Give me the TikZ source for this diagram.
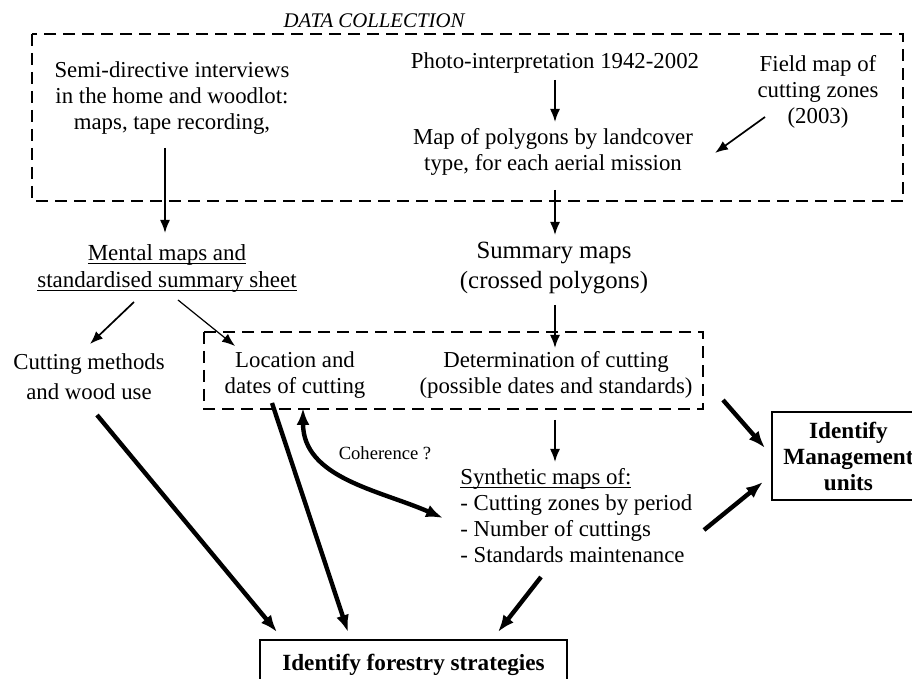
\documentclass[tikz,border=0pt]{standalone}
\usepackage{fontspec}
\setmainfont{Liberation Serif}
\usetikzlibrary{arrows.meta,calc}
\newcommand{\undl}[1]{\underline{\raisebox{0pt}[\height][0pt]{#1}}}
\begin{document}
\begin{tikzpicture}[x=0.5pt,y=-0.5pt,
        txt/.style={align=center,inner sep=0pt,font=\fontsize{11.4}{13}\selectfont},
        boldbox/.style={draw,line width=0.8pt,align=center,inner sep=0pt,font=\fontsize{11.6}{13}\selectfont\bfseries},
        dashbox/.style={draw,line width=0.8pt,dash pattern=on 6pt off 3.5pt},
        thinarrow/.style={-{Latex[length=6.5pt,width=5pt]},line width=0.85pt},
        thickarrow/.style={-{Latex[length=8.5pt,width=6.5pt]},line width=2.2pt},
        cohlink/.style={{Latex[length=8.5pt,width=6.5pt]}-{Latex[length=8.5pt,width=6.5pt]},line width=2.2pt}]
        \useasboundingbox (0,0) rectangle (912,679);

        % dashed frames
        \draw[dashbox] (32,34) rectangle (903,201);
        \draw[dashbox] (204,332) rectangle (703,409);

        \draw (374,21) node (title) [txt,font=\fontsize{10.4}{12}\selectfont\itshape] {DATA COLLECTION};
        \draw (172,98) node (semi) [txt] {Semi-directive interviews\\in the home and woodlot:\\maps, tape recording,};
        \draw (555,63) node (photo) [txt] {Photo-interpretation 1942-2002};
        \draw (553,152) node (polymap) [txt] {Map of polygons by landcover\\type, for each aerial mission};
        \draw (818,92) node (field) [txt] {Field map of\\cutting zones\\(2003)};
        \draw (167,268) node (mental) [txt,font=\fontsize{11.5}{13.5}\selectfont] {\undl{Mental maps and}\\\undl{standardised summary sheet}};
        \draw (554,268) node (summary) [txt,font=\fontsize{12.4}{15}\selectfont] {Summary maps\\(crossed polygons)};
        \draw (295,375) node (location) [txt] {Location and\\dates of cutting};
        \draw (556,375) node (determ) [txt] {Determination of cutting\\(possible dates and standards)};
        \draw (89,377) node (methods) [txt,font=\fontsize{11.4}{15}\selectfont] {Cutting methods\\and wood use};
        \draw (460,516) node (synth) [txt,anchor=west,align=left] {\undl{Synthetic maps of:}\\- Cutting zones by period\\- Number of cuttings\\- Standards maintenance};
        \draw (385,453) node (coh) [txt,font=\fontsize{9.3}{11}\selectfont] {Coherence ?};
        \draw (413.5,665) node (forestry) [boldbox,minimum width=153.5pt,minimum height=25pt] {Identify forestry strategies};
        \draw (848.5,456) node (manage) [boldbox,minimum width=76.5pt,minimum height=44pt] {Identify\\Management\\units};

        % thin arrows
        \draw[thinarrow] ($(semi)+(-7,50)$) -- ($(mental)+(-2,-35)$);
        \draw[thinarrow] ($(photo)+(0,17)$) -- ($(polymap)+(2,-30)$);
        \draw[thinarrow] ($(field)+(-53,25)$) -- ($(polymap)+(162,1)$);
        \draw[thinarrow] ($(polymap)+(2,38)$) -- ($(summary)+(1,-33)$);
        \draw[thinarrow] ($(summary)+(1,37)$) -- ($(determ)+(-1,-27)$);
        \draw[thinarrow] ($(mental)+(-33,34)$) -- ($(methods)+(1,-33)$);
        \draw[thinarrow,line width=0.6pt] ($(mental)+(11,32)$) -- ($(location)+(-60,-29)$);
        \draw[thinarrow] ($(determ)+(-1,45)$) -- ($(synth.west)+(95,-54)$);

        % thick arrows
        \draw[thickarrow] ($(methods)+(8,38)$) -- ($(forestry)+(-136.5,-33)$);
        \draw[thickarrow] ($(location)+(-23,28)$) -- ($(forestry)+(-65.5,-33)$);
        \draw[thickarrow] ($(synth.west)+(81,61)$) -- ($(forestry)+(84.5,-33)$);
        \draw[thickarrow] ($(determ)+(167,25)$) -- ($(manage)+(-83.5,-8)$);
        \draw[thickarrow] ($(synth.west)+(244,14)$) -- ($(manage)+(-85.5,26)$);
        \draw[cohlink] ($(location)+(8,33)$) .. controls ($(location)+(8,103)$) and ($(synth.west)+(-81,-26)$) .. ($(synth.west)+(-17,2)$);
\end{tikzpicture}
\end{document}
